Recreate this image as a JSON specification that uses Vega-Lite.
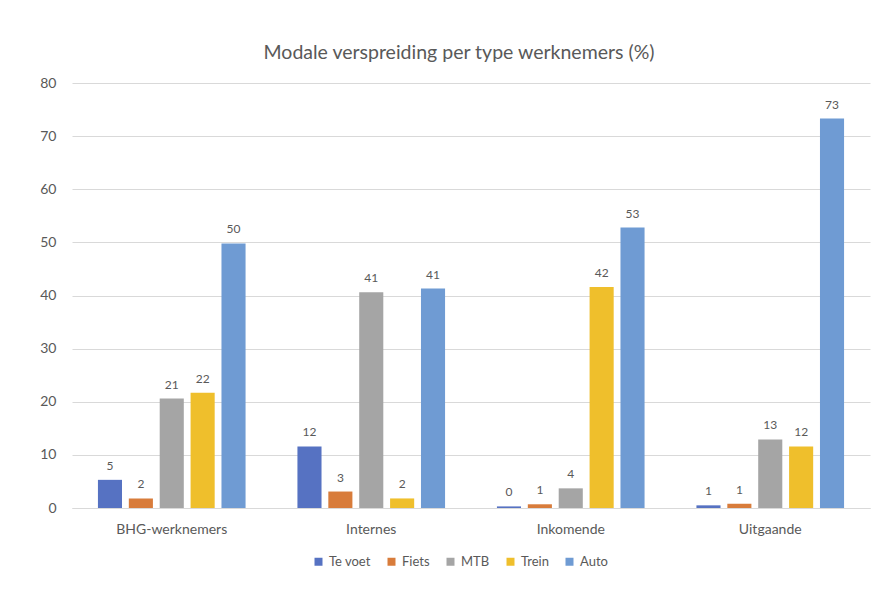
{
  "$schema": "https://vega.github.io/schema/vega-lite/v6.json",
  "autosize": {"type": "none"},
  "width": 798,
  "height": 425,
  "padding": {"left": 72, "top": 83, "right": 7, "bottom": 89},
  "background": "white",
  "title": {
    "text": "Modale verspreiding per type werknemers (%)",
    "font": "Lato",
    "fontSize": 19.5,
    "fontWeight": "normal",
    "color": "#595959",
    "anchor": "middle",
    "dx": -12,
    "offset": 13
  },
  "config": {
    "view": {"stroke": null},
    "font": "Lato"
  },
  "data": {
    "values": [
      {"type": "BHG-werknemers", "mode": "Te voet", "value": 5.3},
      {"type": "BHG-werknemers", "mode": "Fiets", "value": 1.8},
      {"type": "BHG-werknemers", "mode": "MTB", "value": 20.6},
      {"type": "BHG-werknemers", "mode": "Trein", "value": 21.7},
      {"type": "BHG-werknemers", "mode": "Auto", "value": 49.8},
      {"type": "Internes", "mode": "Te voet", "value": 11.6},
      {"type": "Internes", "mode": "Fiets", "value": 3.1},
      {"type": "Internes", "mode": "MTB", "value": 40.6},
      {"type": "Internes", "mode": "Trein", "value": 1.8},
      {"type": "Internes", "mode": "Auto", "value": 41.3},
      {"type": "Inkomende", "mode": "Te voet", "value": 0.3},
      {"type": "Inkomende", "mode": "Fiets", "value": 0.7},
      {"type": "Inkomende", "mode": "MTB", "value": 3.7},
      {"type": "Inkomende", "mode": "Trein", "value": 41.6},
      {"type": "Inkomende", "mode": "Auto", "value": 52.8},
      {"type": "Uitgaande", "mode": "Te voet", "value": 0.5},
      {"type": "Uitgaande", "mode": "Fiets", "value": 0.8},
      {"type": "Uitgaande", "mode": "MTB", "value": 12.9},
      {"type": "Uitgaande", "mode": "Trein", "value": 11.6},
      {"type": "Uitgaande", "mode": "Auto", "value": 73.3}
    ]
  },
  "encoding": {
    "x": {
      "field": "type",
      "type": "nominal",
      "sort": ["BHG-werknemers", "Internes", "Inkomende", "Uitgaande"],
      "scale": {"paddingInner": 0.26, "paddingOuter": 0.13},
      "axis": {
        "title": null,
        "labelAngle": 0,
        "labelFontSize": 14,
        "labelColor": "#595959",
        "labelPadding": 14,
        "ticks": false,
        "domainColor": "#d9d9d9",
        "domainWidth": 1
      }
    },
    "xOffset": {
      "field": "mode",
      "type": "nominal",
      "sort": ["Te voet", "Fiets", "MTB", "Trein", "Auto"],
      "scale": {"paddingInner": 0.22}
    },
    "y": {
      "field": "value",
      "type": "quantitative",
      "scale": {"domain": [0, 80]},
      "axis": {
        "title": null,
        "values": [0, 10, 20, 30, 40, 50, 60, 70, 80],
        "domain": false,
        "ticks": false,
        "labelFontSize": 14,
        "labelColor": "#595959",
        "labelPadding": 16,
        "labelOverlap": false,
        "gridColor": "#d9d9d9",
        "gridWidth": 1
      }
    }
  },
  "layer": [
    {
      "mark": {"type": "bar"},
      "encoding": {
        "color": {
          "field": "mode",
          "type": "nominal",
          "sort": ["Te voet", "Fiets", "MTB", "Trein", "Auto"],
          "scale": {
            "domain": ["Te voet", "Fiets", "MTB", "Trein", "Auto"],
            "range": ["#5672c2", "#d87c3b", "#a5a5a5", "#efbf2c", "#6f9bd3"]
          },
          "legend": {
            "title": null,
            "orient": "none",
            "direction": "horizontal",
            "legendX": 240,
            "legendY": 472,
            "symbolType": "square",
            "symbolSize": 64,
            "symbolStrokeWidth": 0,
            "labelFontSize": 13,
            "labelColor": "#595959",
            "labelOffset": 4,
            "columnPadding": 14
          }
        }
      }
    },
    {
      "mark": {
        "type": "text",
        "baseline": "bottom",
        "dy": -7,
        "fontSize": 12,
        "color": "#595959"
      },
      "encoding": {
        "text": {"field": "value", "type": "quantitative", "format": ".0f"}
      }
    }
  ]
}
